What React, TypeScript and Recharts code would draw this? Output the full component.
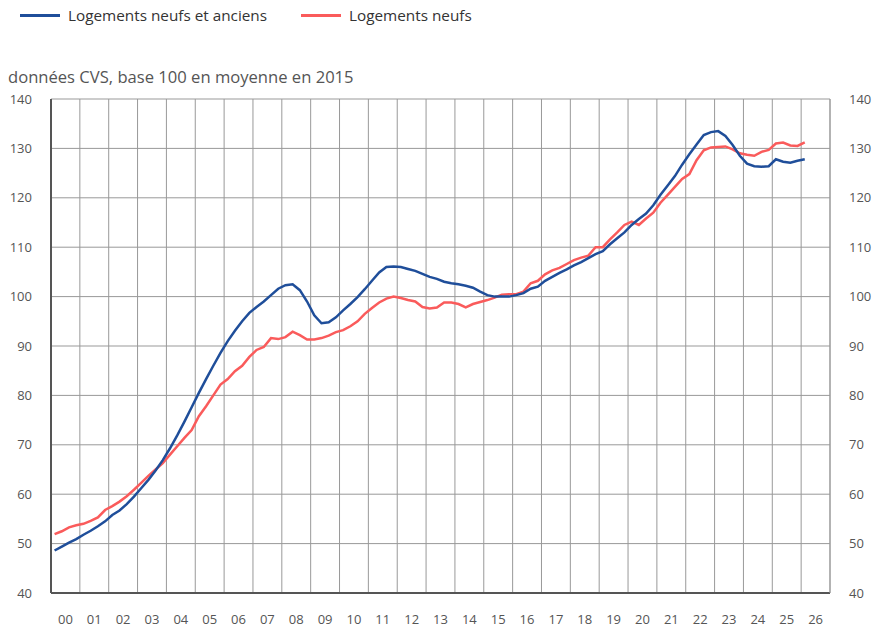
import React from 'react';
import { LineChart, Line, XAxis, YAxis, CartesianGrid } from 'recharts';

const BLUE = '#1f4e9a';
const RED = '#fa5b5b';
const FONT = '"Open Sans", "Noto Sans", sans-serif';

// trimestres 2000T1 -> 2026T1
const FIRST_YEAR = 2000;
const yearTicks = [2000, 2001, 2002, 2003, 2004, 2005, 2006, 2007, 2008, 2009, 2010, 2011, 2012, 2013,
  2014, 2015, 2016, 2017, 2018, 2019, 2020, 2021, 2022, 2023, 2024, 2025, 2026, 2027];
const valueTicks = [40, 50, 60, 70, 80, 90, 100, 110, 120, 130, 140];

// Logements neufs et anciens (un chiffre par trimestre)
const neufsEtAnciens = [
  48.6, 49.4, 50.2, 50.9,
  51.8, 52.6, 53.5, 54.5,
  55.8, 56.7, 58.0, 59.5,
  61.2, 62.9, 64.8, 66.9,
  69.3, 71.9, 74.7, 77.6,
  80.5, 83.3, 86.0, 88.6,
  91.0, 93.1, 95.0, 96.7,
  97.9, 99.0, 100.3, 101.6,
  102.3, 102.5, 101.3, 99.0,
  96.2, 94.6, 94.8, 95.8,
  97.2, 98.5, 99.9, 101.5,
  103.2, 104.9, 106.0, 106.1,
  106.0, 105.6, 105.2, 104.6,
  104.0, 103.6, 103.0, 102.7,
  102.5, 102.2, 101.8, 101.0,
  100.3, 100.0, 100.0, 100.0,
  100.3, 100.7, 101.6, 102.0,
  103.2, 104.0, 104.8, 105.5,
  106.3, 107.0, 107.8, 108.6,
  109.2, 110.6, 111.8, 113.0,
  114.5, 115.7, 116.8, 118.5,
  120.6, 122.5, 124.4, 126.7,
  128.8, 130.8, 132.7, 133.3,
  133.5, 132.5, 130.7, 128.5,
  126.9, 126.4, 126.3, 126.4,
  127.8, 127.3, 127.1, 127.5,
  127.8,
];

// Logements neufs
const neufs = [
  51.9, 52.5, 53.3, 53.7,
  54.0, 54.6, 55.3, 56.8,
  57.6, 58.5, 59.6, 60.9,
  62.3, 63.7, 65.0, 66.3,
  68.0, 69.7, 71.4, 73.0,
  75.8, 77.8, 80.0, 82.2,
  83.3, 84.9, 86.0, 87.8,
  89.2, 89.8, 91.6, 91.4,
  91.8, 92.9, 92.2, 91.3,
  91.3, 91.6, 92.1, 92.8,
  93.2, 94.0, 95.0, 96.5,
  97.7, 98.8, 99.6, 100.0,
  99.7, 99.3, 99.0, 97.9,
  97.6, 97.8, 98.8, 98.8,
  98.5, 97.8, 98.5, 98.9,
  99.3, 99.8, 100.4, 100.5,
  100.5, 101.0, 102.7, 103.2,
  104.5, 105.3, 105.8, 106.6,
  107.4, 107.9, 108.3, 110.0,
  110.0, 111.6, 113.0, 114.5,
  115.2, 114.5, 115.8, 117.0,
  119.0, 120.6, 122.2, 123.8,
  124.8, 127.6, 129.6, 130.2,
  130.3, 130.4, 129.8, 129.0,
  128.7, 128.5, 129.3, 129.7,
  131.0, 131.2, 130.6, 130.5,
  131.2,
];

const data = neufsEtAnciens.map((v, i) => ({
  t: FIRST_YEAR + 0.125 + i * 0.25,
  ensemble: v,
  neufs: neufs[i],
}));

const W = 872;
const H = 630;
const LEFT_W = 51;
const RIGHT_W = 42;
const YEAR_PX = (W - LEFT_W - RIGHT_W) / (yearTicks.length - 1);

const YearTick = (props: any) => {
  const { x, y, payload } = props;
  if (payload.value >= 2027) return <g />;
  return (
    <text x={x + YEAR_PX / 2} y={y + 31} textAnchor="middle" fill="#555" fontSize={13} fontFamily={FONT}>
      {String(payload.value % 100).padStart(2, '0')}
    </text>
  );
};

function LegendItem({ color, label, left }: { color: string; label: string; left: number }) {
  return (
    <div style={{ position: 'absolute', left, top: 4, display: 'flex', alignItems: 'center', height: 22 }}>
      <div style={{ width: 40, height: 3, background: color, marginRight: 8 }} />
      <span style={{ fontSize: 15.3, color: '#333' }}>{label}</span>
    </div>
  );
}

export default function App() {
  return (
    <div style={{ position: 'fixed', left: 0, top: 0, width: W, height: H, background: '#fff', fontFamily: FONT }}>
      <LegendItem color={BLUE} label="Logements neufs et anciens" left={20} />
      <LegendItem color={RED} label="Logements neufs" left={301} />
      <div style={{ position: 'absolute', left: 8, top: 65, fontSize: 16.6, color: '#555' }}>
        données CVS, base 100 en moyenne en 2015
      </div>
      <LineChart width={W} height={H} data={data} margin={{ top: 99, right: 0, left: 0, bottom: 0 }}>
        <CartesianGrid yAxisId="left" stroke="#999" strokeWidth={1} />
        <XAxis
          dataKey="t"
          type="number"
          domain={[2000, 2027]}
          ticks={yearTicks}
          interval={0}
          height={37}
          tickLine={false}
          tickSize={0}
          tickMargin={0}
          axisLine={{ stroke: '#555', strokeWidth: 2 }}
          tick={<YearTick />}
        />
        <YAxis
          yAxisId="left"
          domain={[40, 140]}
          ticks={valueTicks}
          interval={0}
          width={LEFT_W}
          tickLine={false}
          tickSize={0}
          tickMargin={19}
          axisLine={{ stroke: '#555', strokeWidth: 2 }}
          tick={{ fill: '#555', fontSize: 13, fontFamily: FONT }}
        />
        <YAxis
          yAxisId="right"
          orientation="right"
          domain={[40, 140]}
          ticks={valueTicks}
          interval={0}
          width={RIGHT_W}
          tickLine={false}
          tickSize={0}
          tickMargin={19}
          axisLine={{ stroke: '#999', strokeWidth: 1 }}
          tick={{ fill: '#555', fontSize: 13, fontFamily: FONT }}
        />
        <Line yAxisId="right" type="linear" dataKey="neufs" stroke={RED} strokeWidth={2.5} dot={false} isAnimationActive={false} />
        <Line yAxisId="left" type="linear" dataKey="ensemble" stroke={BLUE} strokeWidth={2.5} dot={false} isAnimationActive={false} />
      </LineChart>
    </div>
  );
}
